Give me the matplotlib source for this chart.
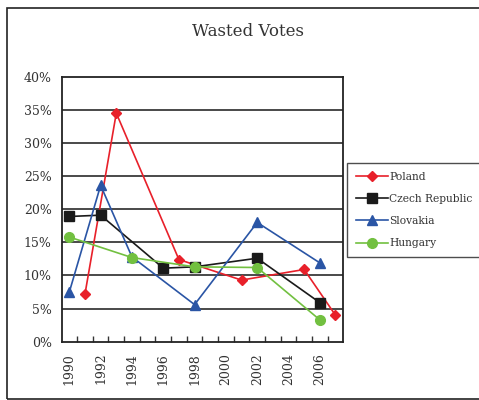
import numpy as np
import matplotlib
matplotlib.use('Agg')
import matplotlib.pyplot as plt
from matplotlib.patches import Rectangle

plt.rcParams['font.family'] = 'DejaVu Serif'

# data (percent of votes wasted)
poland_years = [1991, 1993, 1997, 2001, 2005, 2007]
poland_vals = [7.2, 34.5, 12.4, 9.3, 10.9, 4.0]
czech_years = [1990, 1992, 1996, 1998, 2002, 2006]
czech_vals = [18.9, 19.1, 11.1, 11.3, 12.6, 5.9]
slovakia_years = [1990, 1992, 1994, 1998, 2002, 2006]
slovakia_vals = [7.5, 23.6, 12.8, 5.6, 18.0, 11.9]
hungary_years = [1990, 1994, 1998, 2002, 2006]
hungary_vals = [15.8, 12.7, 11.3, 11.2, 3.3]
year_labels = [str(y) for y in range(1990, 2007, 2)]

fig = plt.figure(figsize=(4.79, 4.0), dpi=100)
ax = fig.add_axes([61.5/479, 1-341.7/400, (343.3-61.5)/479, (341.7-76.7)/400])

# outer frame
fig.patches.append(Rectangle((7/479, 1.5/400), 1.2, 391/400, transform=fig.transFigure,
                             fill=False, edgecolor='#222222', linewidth=1.2))

for y in range(5, 40, 5):
    ax.axhline(y, color='#3a3a3a', linewidth=1.3, zorder=1)

ax.plot(poland_years, poland_vals, color='#e8202a', marker='D', markersize=5.5,
        linewidth=1.2, label='Poland', zorder=3)
ax.plot(czech_years, czech_vals, color='#1a1a1a', marker='s', markersize=7,
        linewidth=1.2, label='Czech Republic', zorder=3)
ax.plot(slovakia_years, slovakia_vals, color='#2a55a5', marker='^', markersize=7,
        linewidth=1.2, label='Slovakia', zorder=3)
ax.plot(hungary_years, hungary_vals, color='#72c040', marker='o', markersize=7,
        linewidth=1.2, label='Hungary', zorder=3)

ax.set_xlim(1989.5, 2007.5)
ax.set_ylim(0, 40)
ax.set_yticks(range(0, 41, 5))
ax.set_yticklabels(['%d%%' % v for v in range(0, 41, 5)], fontsize=9, color='#333333')
ax.tick_params(axis='y', length=0, pad=7)

ax.set_xticks(range(1990, 2007, 2))
ax.set_xticklabels(year_labels, rotation=90, fontsize=9, color='#333333')
ax.tick_params(axis='x', which='major', length=0, pad=8)
ax.set_xticks(np.arange(1990.5, 2007, 1), minor=True)
ax.tick_params(axis='x', which='minor', direction='in', length=4, width=1, color='#333333')

for s in ax.spines.values():
    s.set_linewidth(1.3)
    s.set_color('#222222')

fig.text(248/479, 1-31/400, 'Wasted Votes', ha='center', va='center', fontsize=12, color='#333333')

leg = fig.legend(loc='upper left', bbox_to_anchor=(347/479, 1-163/400), fontsize=7.7,
                 frameon=True, fancybox=False, edgecolor='#222222', borderpad=0.8,
                 labelspacing=1.15, handlelength=3.0, handletextpad=0.15, borderaxespad=0)
leg.get_frame().set_linewidth(1.0)
for t in leg.get_texts():
    t.set_color('#333333')

fig.savefig('out.png', dpi=100)
